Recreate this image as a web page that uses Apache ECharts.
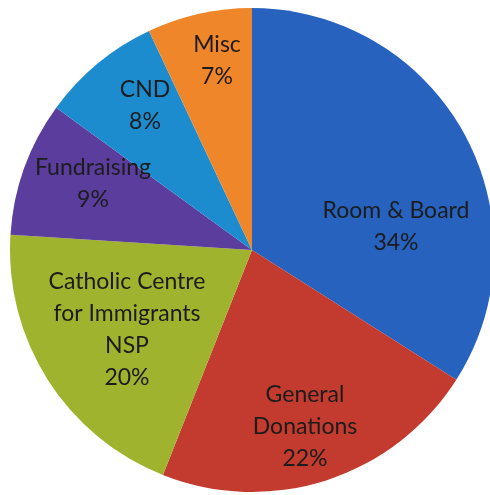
<!DOCTYPE html>
<html>
<head>
<meta charset="utf-8">
<script src="https://cdn.jsdelivr.net/npm/echarts@6/dist/echarts.min.js"></script>
<style>
    html, body { margin: 0; padding: 0; background: #fff; }
    #chart { width: 490px; height: 495px; }
</style>
</head>
<body>
<div id="chart"></div>
<script>
    // slices, clockwise from 12 o'clock
    var categories = ['Room & Board', 'General\nDonations', 'Catholic Centre\nfor Immigrants\nNSP', 'Fundraising', 'CND', 'Misc'];
    var percents = [34, 22, 20, 9, 8, 7];
    var colors = ['#2662be', '#c23b2e', '#9fb32f', '#5a3d9c', '#1c8ccf', '#ef872a'];

    // label block centres, offset from the pie centre (px)
    var labelOffsets = [[144, -23], [53, 177], [-125, 80], [-159, -66], [-107, -144], [-35, -189]];
    var pieCenter = [252, 250];

    var chart = echarts.init(document.getElementById('chart'));
    var seriesData = categories.map(function (name, i) {
        return { name: name, value: percents[i], itemStyle: { color: colors[i] } };
    });

    var option = {
        backgroundColor: '#ffffff',
        animation: false,
        series: [{
            type: 'pie',
            center: pieCenter,
            radius: 242,
            startAngle: 90,
            clockwise: true,
            data: seriesData,
            itemStyle: { borderWidth: 0 },
            label: {
                show: true,
                position: 'inside',
                formatter: '{b}\n{c}%',
                fontFamily: 'Lato',
                fontSize: 23,
                lineHeight: 32,
                color: '#1c1c1c',
                align: 'center'
            },
            labelLine: { show: false },
            labelLayout: function (params) {
                var off = labelOffsets[params.dataIndex];
                return {
                    x: pieCenter[0] + off[0],
                    y: pieCenter[1] + off[1],
                    align: 'center',
                    verticalAlign: 'middle'
                };
            }
        }]
    };
    chart.setOption(option);
</script>
</body>
</html>
